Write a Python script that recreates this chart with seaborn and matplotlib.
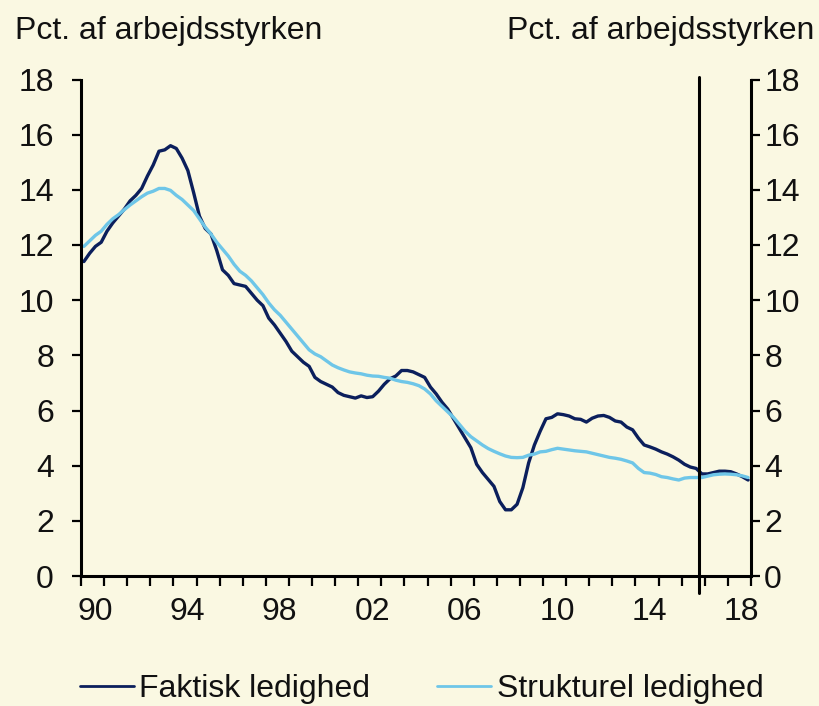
import numpy as np
import pandas as pd
import matplotlib
matplotlib.use("Agg")
import matplotlib.pyplot as plt
from matplotlib.lines import Line2D
import seaborn as sns

# ---- data (quarterly, 1990Q1 - 2018Q4) ----
start_year = 1990
faktisk = [
    11.4, 11.7, 11.95, 12.1,
    12.5, 12.8, 13.05, 13.3,
    13.6, 13.8, 14.05, 14.5,
    14.9, 15.4, 15.45, 15.6,
    15.5, 15.15, 14.7, 13.9,
    13.05, 12.6, 12.4, 11.8,
    11.1, 10.9, 10.6, 10.55,
    10.5, 10.25, 10.0, 9.8,
    9.35, 9.1, 8.8, 8.5,
    8.15, 7.95, 7.75, 7.6,
    7.2, 7.05, 6.95, 6.85,
    6.65, 6.55, 6.5, 6.45,
    6.53, 6.47, 6.5, 6.7,
    6.95, 7.15, 7.25, 7.45,
    7.45, 7.4, 7.3, 7.2,
    6.85, 6.6, 6.3, 6.05,
    5.7, 5.35, 5.0, 4.65,
    4.05, 3.75, 3.5, 3.25,
    2.7, 2.4, 2.4, 2.6,
    3.2, 4.1, 4.75, 5.25,
    5.7, 5.75, 5.88, 5.85,
    5.8, 5.7, 5.68, 5.58,
    5.72, 5.8, 5.82, 5.75,
    5.62, 5.58, 5.4, 5.3,
    5.0, 4.75, 4.68, 4.6,
    4.5, 4.42, 4.32, 4.2,
    4.05, 3.95, 3.9, 3.7,
    3.7, 3.75, 3.8, 3.8,
    3.78, 3.7, 3.6, 3.48,
]
strukturel = [
    11.95, 12.15, 12.35, 12.5,
    12.75, 12.95, 13.1, 13.28,
    13.45, 13.6, 13.75, 13.88,
    13.95, 14.05, 14.05, 13.98,
    13.8, 13.65, 13.45, 13.25,
    12.95, 12.65, 12.4, 12.1,
    11.85, 11.6, 11.3, 11.05,
    10.9, 10.7, 10.45, 10.2,
    9.9, 9.65, 9.45, 9.2,
    8.95, 8.7, 8.45, 8.2,
    8.05, 7.95, 7.8, 7.65,
    7.55, 7.47, 7.4, 7.36,
    7.33, 7.28, 7.25, 7.24,
    7.2, 7.17, 7.1, 7.05,
    7.02, 6.97, 6.9, 6.78,
    6.6, 6.35, 6.15, 5.95,
    5.75, 5.5, 5.25, 5.05,
    4.9, 4.75, 4.62, 4.52,
    4.43, 4.35, 4.3, 4.29,
    4.3, 4.38, 4.42, 4.5,
    4.52, 4.58, 4.63, 4.6,
    4.57, 4.54, 4.52, 4.5,
    4.45, 4.4, 4.35, 4.3,
    4.27, 4.23, 4.17, 4.1,
    3.9, 3.75, 3.73, 3.68,
    3.6, 3.57, 3.52, 3.48,
    3.55, 3.57, 3.57, 3.57,
    3.62, 3.67, 3.69, 3.7,
    3.69, 3.67, 3.63, 3.57,
]
series_names = ["Faktisk ledighed", "Strukturel ledighed"]
label_years = [1990, 1994, 1998, 2002, 2006, 2010, 2014, 2018]
x_labels = ["90", "94", "98", "02", "06", "10", "14", "18"]
y_ticks = [0, 2, 4, 6, 8, 10, 12, 14, 16, 18]
axis_title = "Pct. af arbejdsstyrken"
forecast_start = 2016.75

# ---- build long table ----
n = len(faktisk)
t = start_year + (np.arange(n) + 0.5) / 4.0
df = pd.DataFrame({
    "t": np.concatenate([t, t]),
    "v": faktisk + strukturel,
    "serie": [series_names[0]] * n + [series_names[1]] * n,
})

sns.set_theme(style="white")
plt.rcParams["font.family"] = ["Liberation Sans", "DejaVu Sans"]

bg = "#FAF8E2"
dark = "#0B1F5C"
light = "#6EC6E8"
fs = 23

fig = plt.figure(figsize=(8.2, 7.06), dpi=100, facecolor=bg)
ax = fig.add_axes([81 / 820, 1 - 576 / 706, 670 / 820, (576 - 79.5) / 706])
ax.set_facecolor(bg)

sns.lineplot(data=df, x="t", y="v", hue="serie", palette=[dark, light],
             linewidth=2.4, ax=ax, legend=False)

ax.set_xlim(1990, 2019)
ax.set_ylim(0, 18)
ax.set_xlabel("")
ax.set_ylabel("")

# x ticks: yearly marks, labels centred in the year
ax.set_xticks(np.arange(1990, 2020))
ax.set_xticklabels([])
ax.set_xticks([y + 0.6 for y in label_years], x_labels, minor=True)
ax.tick_params(axis="x", which="major", direction="out", length=7, width=1.6,
               color="black", bottom=True)
ax.tick_params(axis="x", which="minor", length=0, pad=15, labelsize=fs,
               labelcolor="#111111", bottom=True)

ax.set_yticks(y_ticks)
ax.tick_params(axis="y", which="major", direction="out", length=6.5, width=1.6,
               color="black", pad=13, labelsize=fs, labelcolor="#111111", left=True)

for s in ["left", "bottom"]:
    ax.spines[s].set_visible(True)
    ax.spines[s].set_color("black")
    ax.spines[s].set_linewidth(2.2)
ax.spines["top"].set_visible(False)
ax.spines["right"].set_visible(False)

ax2 = ax.twinx()
ax2.set_ylim(0, 18)
ax2.set_yticks(y_ticks)
ax2.tick_params(axis="y", direction="out", length=6.5, width=1.6, color="black",
                pad=3, labelsize=fs, labelcolor="#111111", right=True)
for s in ["left", "bottom", "top"]:
    ax2.spines[s].set_visible(False)
ax2.spines["right"].set_visible(True)
ax2.spines["right"].set_color("black")
ax2.spines["right"].set_linewidth(2.2)

ax.axvline(forecast_start, ymin=-0.034, ymax=1.006, color="black",
           linewidth=2.2, clip_on=False)

fig.text(15 / 820, 1 - 38.5 / 706, axis_title, ha="left", va="baseline",
         fontsize=fs, color="#111111")
fig.text(814 / 820, 1 - 38.5 / 706, axis_title, ha="right", va="baseline",
         fontsize=fs, color="#111111")

handles = [Line2D([], [], color=dark, linewidth=2.0),
           Line2D([], [], color=light, linewidth=2.0)]
fig.legend(handles, series_names, loc="center", ncol=2,
           bbox_to_anchor=(421.5 / 820, 1 - 689 / 706), frameon=False,
           fontsize=fs, handlelength=1.7, handletextpad=0.16,
           columnspacing=2.1, labelcolor="#111111")

fig.savefig("out.png", dpi=100, facecolor=bg)
